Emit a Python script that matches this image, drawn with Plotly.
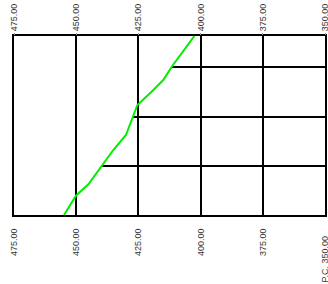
import plotly.graph_objects as go

# Data
tick_vals = [475, 450, 425, 400, 375, 350]
top_labels = ["475.00", "450.00", "425.00", "400.00", "375.00", "350.00"]
bottom_labels = ["475.00", "450.00", "425.00", "400.00", "375.00", "P.C. 350.00\u00a0\u00a0\u00a0"]

profile_x = [454.9, 450.1, 445.1, 439.8, 435.1, 430.0, 425.4, 419.7, 415.0, 411.6, 402.5]
profile_y = [0, 19.3, 30.7, 48.3, 65, 80, 110, 123.3, 135, 148.3, 179]

level_y = [49, 98, 148]
level_start_x = [439.6, 427.2, 411.5]
level_end_x = 350

fig = go.Figure()

for y, xs in zip(level_y, level_start_x):
    fig.add_trace(go.Scatter(x=[xs, level_end_x], y=[y, y], mode="lines",
                             line=dict(color="black", width=2), showlegend=False,
                             hoverinfo="skip"))

fig.add_trace(go.Scatter(x=profile_x, y=profile_y, mode="lines",
                         line=dict(color="#00ee00", width=2), showlegend=False))
# dummy trace for top axis
fig.add_trace(go.Scatter(x=[475, 350], y=[0, 0], xaxis="x2", mode="markers",
                         marker=dict(opacity=0), showlegend=False, hoverinfo="skip"))

font = dict(family="Arial, Liberation Sans, sans-serif", size=9, color="#333")

fig.update_layout(
    width=328, height=284,
    margin=dict(l=14, r=3, t=36, b=69),
    paper_bgcolor="white", plot_bgcolor="white",
    xaxis=dict(range=[475, 350], tickvals=tick_vals, ticktext=bottom_labels,
               tickangle=-90, tickfont=font, showgrid=True, gridcolor="black",
               gridwidth=2, zeroline=False, showline=True, linecolor="black",
               linewidth=2, mirror=True, ticklabelstandoff=8, automargin=False,
               ticklabeloverflow="allow"),
    xaxis2=dict(range=[475, 350], tickvals=tick_vals, ticktext=top_labels,
                tickangle=-90, tickfont=font, overlaying="x", side="top",
                showgrid=False, zeroline=False, showline=False,
                ticks="outside", ticklen=2, tickcolor="#999", automargin=False,
                ticklabeloverflow="allow"),
    yaxis=dict(range=[0, 179], showticklabels=False, showgrid=False,
               zeroline=False, showline=True, linecolor="black", linewidth=2,
               mirror=True, automargin=False),
)

fig.write_html("out.html", config={"displayModeBar": False},
               post_script="document.body.style.margin='0';")
